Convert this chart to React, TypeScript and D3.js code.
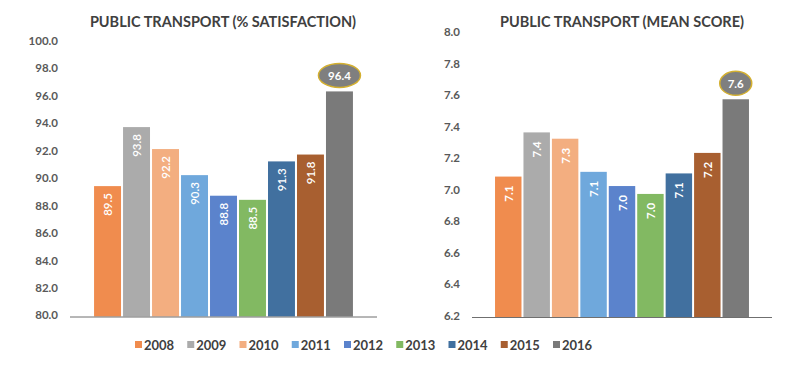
import React, { useRef, useEffect } from 'react';
import * as d3 from 'd3';

const years = ['2008', '2009', '2010', '2011', '2012', '2013', '2014', '2015', '2016'];
const colors = ['#F08C4E', '#ABABAB', '#F3AE80', '#6FA8DC', '#5B83CC', '#82B962', '#41709F', '#A85F30', '#7A7A7A'];

const satisfaction = [89.5, 93.8, 92.2, 90.3, 88.8, 88.5, 91.3, 91.8, 96.4];
const meanScore = [7.09, 7.37, 7.33, 7.12, 7.03, 6.98, 7.11, 7.24, 7.58];

const satisfactionTicks = [80, 82, 84, 86, 88, 90, 92, 94, 96, 98, 100];
const meanTicks = [6.2, 6.4, 6.6, 6.8, 7.0, 7.2, 7.4, 7.6, 7.8, 8.0];

const FONT = 'Lato, "Open Sans", sans-serif';

interface PanelOpts {
  title: string;
  titleX: number;
  values: number[];
  ticks: number[];
  domain: [number, number];
  x0: number;
  x1: number;
  yTop: number;
  yBottom: number;
  labelX: number;
  padOuter: number;
  labelGap: number;
  labelWeight: string;
  calloutRx: number;
}

export default function App() {
  const svgRef = useRef<SVGSVGElement>(null);

  useEffect(() => {
    if (!svgRef.current) return;
    const svg = d3.select(svgRef.current);
    svg.selectAll('*').remove();

    const drawPanel = (o: PanelOpts) => {
      const g = svg.append('g');
      const x = d3.scaleBand<string>()
        .domain(years)
        .range([o.x0, o.x1])
        .paddingInner(0.07)
        .paddingOuter(o.padOuter);
      const y = d3.scaleLinear().domain(o.domain).range([o.yBottom, o.yTop]);

      // Title
      g.append('text')
        .attr('x', o.titleX)
        .attr('y', 27)
        .attr('text-anchor', 'middle')
        .attr('font-family', FONT)
        .attr('font-weight', 'bold')
        .attr('font-size', '14.5px')
        .attr('fill', '#404040')
        .text(o.title);

      // Tick labels
      o.ticks.forEach((t) => {
        g.append('text')
          .attr('x', o.labelX)
          .attr('y', y(t))
          .attr('text-anchor', 'end')
          .attr('dominant-baseline', 'middle')
          .attr('font-family', FONT)
          .attr('font-weight', 'bold')
          .attr('font-size', '11.5px')
          .attr('fill', '#595959')
          .text(t.toFixed(1));
      });

      // Bars
      o.values.forEach((v, i) => {
        const bx = x(years[i])!;
        const bw = x.bandwidth();
        const top = y(v);
        g.append('rect')
          .attr('x', bx)
          .attr('y', top)
          .attr('width', bw)
          .attr('height', o.yBottom - top)
          .attr('fill', colors[i]);

        if (i === o.values.length - 1) {
          // Callout for latest year
          const cx = bx + bw / 2;
          const cy = top - 4 - 12;
          g.append('ellipse')
            .attr('cx', cx)
            .attr('cy', cy)
            .attr('rx', o.calloutRx)
            .attr('ry', 12)
            .attr('fill', '#7F7F7F')
            .attr('stroke', '#D4B030')
            .attr('stroke-width', 1.5);
          g.append('text')
            .attr('x', cx)
            .attr('y', cy)
            .attr('text-anchor', 'middle')
            .attr('dominant-baseline', 'central')
            .attr('font-family', FONT)
            .attr('font-weight', 'bold')
            .attr('font-size', '11.5px')
            .attr('fill', '#ffffff')
            .text(v.toFixed(1));
        } else {
          const lx = bx + bw / 2;
          const ly = top + o.labelGap;
          g.append('text')
            .attr('transform', `translate(${lx},${ly}) rotate(-90)`)
            .attr('text-anchor', 'end')
            .attr('dominant-baseline', 'central')
            .attr('font-family', FONT)
            .attr('font-weight', o.labelWeight)
            .attr('font-size', '11.5px')
            .attr('fill', '#ffffff')
            .text(v.toFixed(1));
        }
      });

      // Baseline
      g.append('line')
        .attr('x1', o.x0)
        .attr('x2', o.x1)
        .attr('y1', o.yBottom + 0.5)
        .attr('y2', o.yBottom + 0.5)
        .attr('stroke', '#6f6f6f')
        .attr('stroke-width', 1);
    };

    drawPanel({
      title: 'PUBLIC TRANSPORT (% SATISFACTION)',
      titleX: 223,
      values: satisfaction,
      ticks: satisfactionTicks,
      domain: [80, 100],
      x0: 70,
      x1: 377,
      yTop: 42,
      yBottom: 316.5,
      labelX: 58,
      padOuter: 0.83,
      labelGap: 7,
      labelWeight: '600',
      calloutRx: 21,
    });

    drawPanel({
      title: 'PUBLIC TRANSPORT (MEAN SCORE)',
      titleX: 622,
      values: meanScore,
      ticks: meanTicks,
      domain: [6.2, 8.0],
      x0: 472,
      x1: 772,
      yTop: 33,
      yBottom: 317,
      labelX: 460,
      padOuter: 0.81,
      labelGap: 9,
      labelWeight: 'bold',
      calloutRx: 16,
    });

    // Legend
    const legendX = d3.scalePoint<string>().domain(years).range([135, 553]);
    const legend = svg.append('g');
    years.forEach((yr, i) => {
      const lx = legendX(yr)!;
      legend.append('rect')
        .attr('x', lx)
        .attr('y', 341)
        .attr('width', 7)
        .attr('height', 7)
        .attr('fill', colors[i]);
      legend.append('text')
        .attr('x', lx + 9)
        .attr('y', 345)
        .attr('dominant-baseline', 'central')
        .attr('font-family', FONT)
        .attr('font-weight', 'bold')
        .attr('font-size', '13px')
        .attr('fill', '#404040')
        .text(yr);
    });
  }, []);

  return (
    <div style={{ position: 'absolute', left: 0, top: 0, width: 790, height: 374, background: '#fff' }}>
      <svg ref={svgRef} width={790} height={374} style={{ display: 'block' }}></svg>
    </div>
  );
}
